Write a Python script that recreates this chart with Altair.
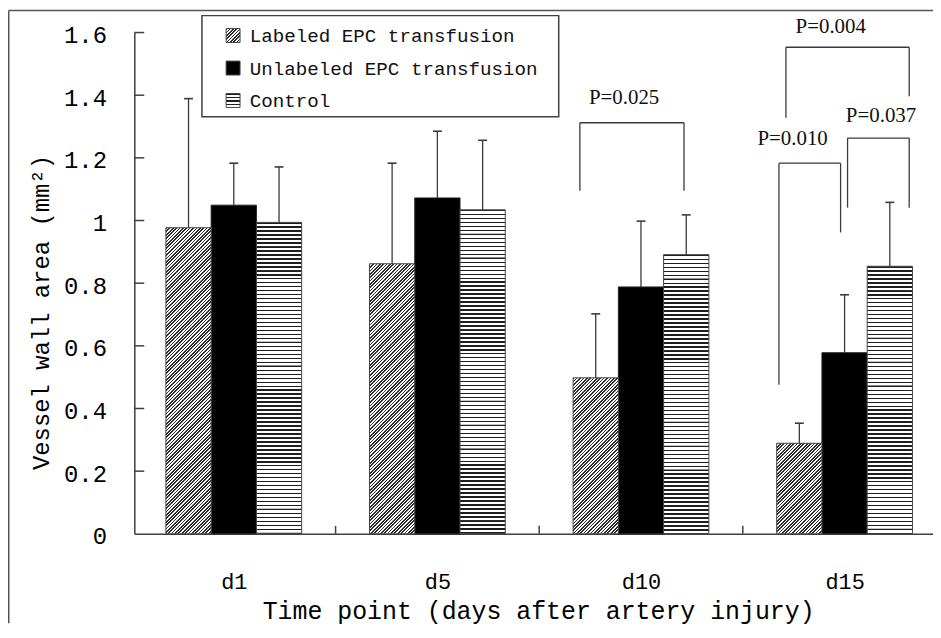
import json
import math
import altair as alt
import pandas as pd

# ---------------- data ----------------
categories = ["d1", "d5", "d10", "d15"]
series = ["Labeled EPC transfusion", "Unlabeled EPC transfusion", "Control"]
labeled_mean = [0.977, 0.862, 0.498, 0.289]
labeled_sd = [0.412, 0.321, 0.204, 0.064]
unlabeled_mean = [1.049, 1.072, 0.788, 0.578]
unlabeled_sd = [0.134, 0.213, 0.210, 0.185]
control_mean = [0.994, 1.034, 0.891, 0.854]
control_sd = [0.177, 0.222, 0.127, 0.204]
y_ticks = [0, 0.2, 0.4, 0.6, 0.8, 1.0, 1.2, 1.4, 1.6]

# significance brackets: group index, ends in bar widths from the group centre
br_text = ["P=0.025", "P=0.010", "P=0.037", "P=0.004"]
br_group = [2, 3, 3, 3]
br_left = [-1.35, -1.45, 0.066, -1.296]
br_right = [0.951, -0.088, 1.428, 1.428]
br_top = [1.312, 1.183, 1.263, 1.553]
br_left_end = [1.095, 0.476, 1.041, 1.328]
br_right_end = [1.095, 0.962, 1.041, 1.397]
br_label_x = [-0.373, -1.149, 0.805, -0.306]
br_label_y = [1.391, 1.260, 1.333, 1.619]

# ---------------- layout / style ----------------
W, H = 803, 504
STEP = 204.7          # px per group
FIRST = 100.0         # px from y axis to first group centre
BAR_PX = 45.5
BW = BAR_PX / STEP
CAP = 4.5 / STEP
Y_MAX = 1.6
PX_PER_Y = H / Y_MAX
X_DOMAIN = [-FIRST / STEP, (W - FIRST) / STEP]
MONO = "Liberation Mono"
SERIF = "Liberation Serif"
AX = "#404040"
LINE = "#3a3a3a"

DIAG_P = 2.4                        # hatch period (px, perpendicular)
DIAG_C = 8 * DIAG_P * math.sqrt(2)  # chunk height keeps the hatch continuous
HOR_P = 4.0
HOR_C = 6 * HOR_P
OVER = 0.6                          # px overlap between chunks

xscale = alt.Scale(domain=X_DOMAIN, nice=False, zero=False)
yscale = alt.Scale(domain=[0, Y_MAX], nice=False, zero=False)

xaxis = alt.Axis(
    values=list(range(len(categories))),
    labelExpr=json.dumps(categories) + "[datum.value]",
    tickSize=0, tickOpacity=0, grid=False, labelFlush=False,
    labelPadding=38, labelFont=MONO, labelFontSize=22, labelColor="#000",
    domainColor=AX, domainWidth=1.5,
    title="Time point (days after artery injury)", titleFont=MONO,
    titleFontSize=25, titleFontWeight="normal", titleColor="#000",
    titleX=406, titleY=77, titleAlign="center", titleBaseline="middle",
)
yaxis = alt.Axis(
    values=y_ticks, format="~g", tickSize=0, tickOpacity=0, grid=False,
    labelPadding=28, labelFont=MONO, labelFontSize=24, labelColor="#000",
    labelOffset=3, domainColor=AX, domainWidth=1.5,
    title="Vessel wall area (mm²)", titleFont=MONO, titleFontSize=24,
    titleFontWeight="normal", titleColor="#000", titleAngle=270,
    titleX=-93, titleY=281, titleAlign="center", titleBaseline="middle",
)


def X(f):
    return alt.X(f, type="quantitative", scale=xscale, axis=xaxis)


def Y(f):
    return alt.Y(f, type="quantitative", scale=yscale, axis=yaxis)


means = [labeled_mean, unlabeled_mean, control_mean]
sds = [labeled_sd, unlabeled_sd, control_sd]
rows = []
for si in range(len(series)):
    for gi, cat in enumerate(categories):
        rows.append({"cat": cat, "g": gi, "s": si, "series": series[si],
                     "mean": means[si][gi], "sd": sds[si][gi]})
df = pd.DataFrame(rows)


def base():
    return alt.Chart(df).transform_calculate(
        xc=f"datum.g + (datum.s - 1) * {BW}",
        xl=f"datum.g + (datum.s - 1) * {BW} - {BW / 2}",
        xr=f"datum.g + (datum.s - 1) * {BW} + {BW / 2}",
        capl=f"datum.g + (datum.s - 1) * {BW} - {CAP}",
        capr=f"datum.g + (datum.s - 1) * {BW} + {CAP}",
        top="datum.mean + datum.sd",
        zero="0",
    )


def stripe_stops(n, frac, line, bg):
    stops = []
    for i in range(int(math.ceil(n))):
        a = i / n
        if a >= 1:
            break
        b = min((i + frac) / n, 1.0)
        c = min((i + 1) / n, 1.0)
        stops += [alt.GradientStop(offset=round(a, 5), color=line),
                  alt.GradientStop(offset=round(b, 5), color=line),
                  alt.GradientStop(offset=round(b, 5), color=bg),
                  alt.GradientStop(offset=round(c, 5), color=bg)]
    return stops


def diag_fill(w, h, period=DIAG_P, frac=0.5, line="#2e2e2e"):
    k = (w + h) / (w * w + h * h)
    n = (w + h) / (period * math.sqrt(2))
    return alt.LinearGradient(gradient="linear", x1=0, y1=0, x2=k * w, y2=k * h,
                              stops=stripe_stops(n, frac, line, "#ffffff"))


def horiz_fill(h, period=HOR_P, frac=0.35, line="#1e1e1e"):
    n = h / period
    return alt.LinearGradient(gradient="linear", x1=0, y1=0, x2=0, y2=1,
                              stops=stripe_stops(n, frac, line, "#ffffff"))


def chunked(si, chunk_px, fill):
    cu = chunk_px / PX_PER_Y
    ov = OVER / PX_PER_Y
    return (
        base()
        .transform_filter(f"datum.s == {si}")
        .transform_calculate(ks=f"sequence(0, ceil(datum.mean * {PX_PER_Y} / {chunk_px}))")
        .transform_flatten(["ks"])
        .transform_calculate(
            ct=f"datum.mean - datum.ks * {cu}",
            cb=f"datum.mean - (datum.ks + 1) * {cu} - {ov}",
        )
        .mark_rect(fill=fill, clip=True, strokeWidth=0)
        .encode(x=X("xl"), x2="xr", y=Y("ct"), y2="cb")
    )


layers = []

# solid black bars
layers.append(
    base().transform_filter("datum.s == 1").mark_rect(
        fill="#000000", stroke="#222", strokeWidth=1
    ).encode(x=X("xl"), x2="xr", y=Y("mean"), y2="zero")
)
# hatched bars (diagonal) and striped bars (horizontal), drawn as repeating chunks
layers.append(chunked(0, DIAG_C, diag_fill(BAR_PX, DIAG_C + OVER)))
layers.append(chunked(2, HOR_C, horiz_fill(HOR_C + OVER)))
# bar outlines
layers.append(
    base().transform_filter("datum.s != 1").mark_rect(
        fill="transparent", stroke="#444", strokeWidth=1
    ).encode(x=X("xl"), x2="xr", y=Y("mean"), y2="zero")
)

# error bars (upper only)
layers.append(base().mark_rule(color=LINE, strokeWidth=1.3).encode(
    x=X("xc"), y=Y("mean"), y2="top"))
layers.append(base().mark_rule(color=LINE, strokeWidth=1.6).encode(
    x=X("capl"), x2="capr", y=Y("top")))

# inward ticks
layers.append(
    alt.Chart(pd.DataFrame({"v": y_ticks[1:]})).mark_rule(color=AX, strokeWidth=1.5).encode(
        x=alt.value(0), x2=alt.value(10), y=Y("v"))
)
layers.append(
    alt.Chart(pd.DataFrame({"g": list(range(len(categories) - 1))}))
    .transform_calculate(sep="datum.g + 0.5")
    .mark_rule(color=AX, strokeWidth=1.5).encode(
        x=X("sep"), y=alt.value(H), y2=alt.value(H - 8))
)

# significance brackets
bdf = pd.DataFrame({"text": br_text, "g": br_group, "l": br_left, "r": br_right,
                    "top": br_top, "le": br_left_end, "re": br_right_end,
                    "lx": br_label_x, "ly": br_label_y})


def bbase():
    return alt.Chart(bdf).transform_calculate(
        bl=f"datum.g + datum.l * {BW}",
        br=f"datum.g + datum.r * {BW}",
        tx=f"datum.g + datum.lx * {BW}",
    )


layers.append(bbase().mark_rule(color=LINE, strokeWidth=1.3).encode(
    x=X("bl"), x2="br", y=Y("top")))
layers.append(bbase().mark_rule(color=LINE, strokeWidth=1.3).encode(
    x=X("bl"), y=Y("le"), y2="top"))
layers.append(bbase().mark_rule(color=LINE, strokeWidth=1.3).encode(
    x=X("br"), y=Y("re"), y2="top"))
layers.append(bbase().mark_text(font=SERIF, fontSize=21, color="#111",
                                align="center", baseline="middle").encode(
    x=X("tx"), y=Y("ly"), text="text:N"))

# legend (inside the plot, top left)
one = pd.DataFrame({"a": [0]})
layers.append(alt.Chart(one).mark_rect(fill="#ffffff", stroke=AX, strokeWidth=1.5).encode(
    x=alt.value(68), x2=alt.value(426.7), y=alt.value(-17), y2=alt.value(84.7)))
SYM = 14
row_y = [3.0, 35.7, 68.3]
sym_fills = [diag_fill(SYM, SYM, period=2.4), "#000000", horiz_fill(SYM, period=3.5, frac=0.4)]
for i, name in enumerate(series):
    layers.append(alt.Chart(one).mark_rect(fill=sym_fills[i], stroke="#444", strokeWidth=1).encode(
        x=alt.value(92.3), x2=alt.value(92.3 + SYM),
        y=alt.value(row_y[i] - SYM / 2), y2=alt.value(row_y[i] + SYM / 2)))
    layers.append(alt.Chart(pd.DataFrame({"t": [name]})).mark_text(
        font=MONO, fontSize=19.3, color="#111", align="left", baseline="middle").encode(
        x=alt.value(116), y=alt.value(row_y[i] + 1), text="t:N"))

# outer frame (top and left edges visible in the cropped figure)
layers.append(alt.Chart(one).mark_rule(color="#555", strokeWidth=1.5).encode(
    x=alt.value(-126.25), x2=alt.value(W), y=alt.value(-22.25)))
layers.append(alt.Chart(one).mark_rule(color="#555", strokeWidth=1.5).encode(
    x=alt.value(-126.25), y=alt.value(-22.25), y2=alt.value(H + 90)))

chart = alt.layer(*layers).properties(
    width=W, height=H,
    autosize=alt.AutoSizeParams(type="none"),
    padding={"left": 127, "top": 23, "right": 0, "bottom": 90},
    background="#ffffff",
).configure_view(stroke=None)

chart.save("out.html", embed_options={"renderer": "svg", "actions": False})
